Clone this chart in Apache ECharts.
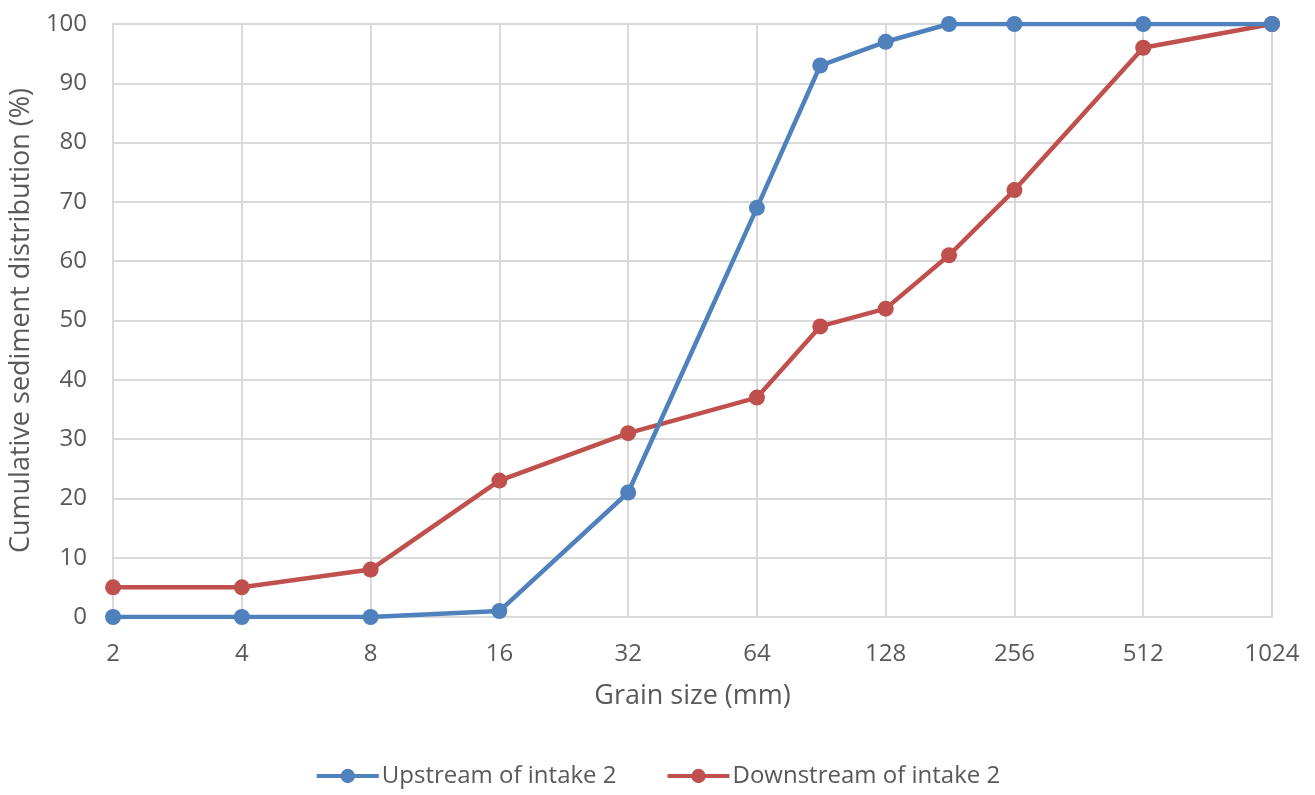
<!DOCTYPE html>
<html>
<head>
<meta charset="utf-8">
<title>Cumulative sediment distribution</title>
<script src="https://cdn.jsdelivr.net/npm/echarts@6/dist/echarts.min.js"></script>
<style>
  html, body { margin: 0; padding: 0; background: #ffffff; }
  #chart { width: 1315px; height: 795px; }
</style>
</head>
<body>
<div id="chart"></div>
<script>
// Sieve sizes in mm (log2 grain-size axis)
const grainSizes = [2, 4, 8, 16, 32, 64, 90, 128, 180, 256, 512, 1024];
// Cumulative percentage passing at each sieve size
const upstream = [0, 0, 0, 1, 21, 69, 93, 97, 100, 100, 100, 100];
const downstream = [5, 5, 8, 23, 31, 37, 49, 52, 61, 72, 96, 100];
const seriesNames = ['Upstream of intake 2', 'Downstream of intake 2'];
const seriesColors = ['#4f81bd', '#c0504d'];

const FONT = '"Open Sans", "Liberation Sans", sans-serif';
const TEXT = '#595959';
const GRID = '#d9d9d9';

const pairs = values => grainSizes.map((g, i) => [g, values[i]]);

const chart = echarts.init(document.getElementById('chart'), null, { renderer: 'canvas' });

chart.setOption({
  animation: false,
  backgroundColor: '#ffffff',
  textStyle: { fontFamily: FONT },
  grid: { left: 113, right: 43, top: 24, bottom: 178, containLabel: false },
  legend: {
    bottom: 2,
    left: 'center',
    itemWidth: 62,
    itemHeight: 18,
    itemGap: 49,
    lineStyle: { width: 4 },
    textStyle: { color: TEXT, fontSize: 24, fontFamily: FONT, padding: [0, 0, 0, -2] },
    data: seriesNames
  },
  xAxis: {
    type: 'log',
    logBase: 2,
    min: 2,
    max: 1024,
    interval: 1,
    name: 'Grain size (mm)',
    nameLocation: 'middle',
    nameGap: 66,
    nameTextStyle: { color: TEXT, fontSize: 27, fontFamily: FONT },
    axisLine: { show: true, lineStyle: { color: GRID, width: 2 } },
    axisTick: { show: false },
    axisLabel: {
      color: TEXT, fontSize: 24, fontFamily: FONT, margin: 25,
      formatter: v => String(Math.round(v))
    },
    splitLine: { show: true, lineStyle: { color: GRID, width: 2 } }
  },
  yAxis: {
    type: 'value',
    min: 0,
    max: 100,
    interval: 10,
    name: 'Cumulative sediment distribution (%)',
    nameLocation: 'middle',
    nameGap: 78,
    nameTextStyle: { color: TEXT, fontSize: 27, fontFamily: FONT },
    axisLine: { show: true, lineStyle: { color: GRID, width: 2 } },
    axisTick: { show: false },
    axisLabel: { color: TEXT, fontSize: 24, fontFamily: FONT, margin: 26 },
    splitLine: { show: true, lineStyle: { color: GRID, width: 2 } }
  },
  series: [
    {
      name: seriesNames[0],
      type: 'line',
      data: pairs(upstream),
      color: seriesColors[0],
      symbol: 'circle',
      symbolSize: 16,
      lineStyle: { width: 4.5, color: seriesColors[0] },
      itemStyle: { color: seriesColors[0] },
      z: 3
    },
    {
      name: seriesNames[1],
      type: 'line',
      data: pairs(downstream),
      color: seriesColors[1],
      symbol: 'circle',
      symbolSize: 16,
      lineStyle: { width: 4.5, color: seriesColors[1] },
      itemStyle: { color: seriesColors[1] },
      z: 2
    }
  ]
});
</script>
</body>
</html>
